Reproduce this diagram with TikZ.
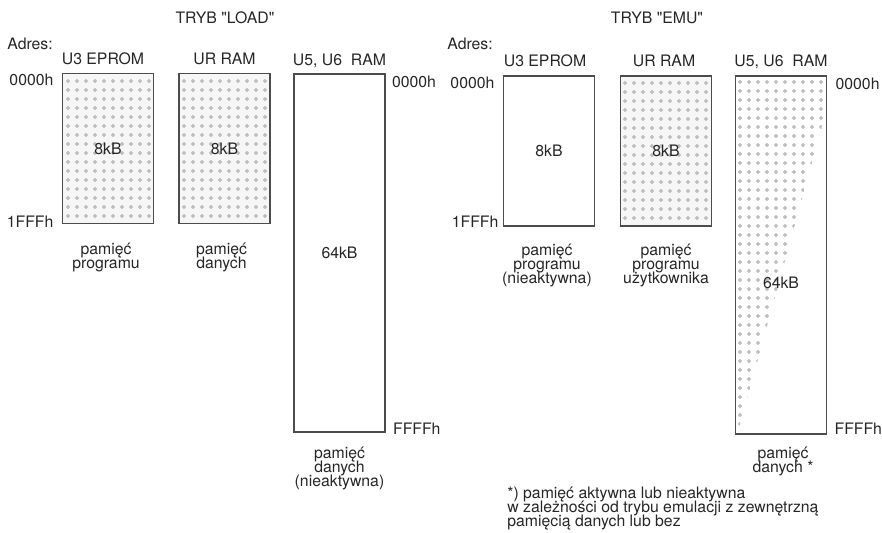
\documentclass[tikz,border=0pt]{standalone}
\usepackage{fontspec}
\setmainfont{TeX Gyre Heros}
\usetikzlibrary{calc}
\lineskiplimit=-10pt

\begin{document}
\begin{tikzpicture}[x=0.5pt,y=-0.5pt,
        font=\fontsize{7.9}{7}\selectfont,
        every node/.style={inner sep=0pt,text=black!85},
        membox/.style={draw=black!70,line width=0.7pt,minimum width=45.5pt,minimum height=75pt},
        bigbox/.style={membox,minimum height=179pt},
        desc/.style={align=center,anchor=north},
        mdot/.style={fill=gray!45,draw=gray!70,line width=0.15pt}]
    \useasboundingbox (0,0) rectangle (882,533);

    % dotted = active memory
    \foreach \bx/\by in {63/74,179/74,620/76}
        {
            \fill[gray!7] (\bx,\by) rectangle (\bx+91,\by+150);
            \foreach \i in {0,...,9}
                \foreach \j in {0,...,15}
                    {\filldraw[mdot] (\bx+5+9*\i,\by+7+9*\j) circle (0.8pt);}
        }
    \begin{scope}
        \clip (736,76) -- (827,76) -- (827,108) -- (739,428) -- (736,428) -- cycle;
        \foreach \i in {0,...,9}
            \foreach \j in {0,...,38}
                {\filldraw[mdot] (740+9*\i,82+9*\j) circle (0.8pt);}
    \end{scope}

    \node[anchor=base] (tload) at (225,24) {TRYB \textquotedbl LOAD\textquotedbl};
    \node[anchor=base] (temu) at (657,24) {TRYB \textquotedbl EMU\textquotedbl};
    \node[anchor=base west] (ladr) at (7,50) {Adres:};
    \node[anchor=base west] (eadr) at (447,50) {Adres:};

    % tryb LOAD
    \node[membox] (lepr) at (108,148.5) {8kB};
    \node[membox] (lur) at (224.5,148.5) {8kB};
    \node[bigbox] (lram) at (339.5,253) {64kB};
    \node[anchor=base] (leprn) at ($(lepr.north)+(-5,-8)$) {U3 EPROM};
    \node[anchor=base] (lurn) at ($(lur.north)+(0,-8)$) {UR RAM};
    \node[anchor=base] (lramn) at ($(lram.north)+(0,-8)$) {U5, U6~ RAM};
    \node[anchor=north east] (lbeg) at ($(lepr.north west)+(-8,1)$) {0000h};
    \node[anchor=base east] (lend) at ($(lepr.south west)+(-8,3)$) {1FFFh};
    \node[anchor=north west] (lrbeg) at ($(lram.north east)+(6,2)$) {0000h};
    \node[anchor=base west] (lrend) at ($(lram.south east)+(7,2)$) {FFFFh};
    \node[desc] (leprd) at ($(lepr.south)+(-2,18)$) {pamięć\\programu};
    \node[desc] (lurd) at ($(lur.south)+(-3,18)$) {pamięć\\danych};
    \node[desc] (lramd) at ($(lram.south)+(0,14)$) {pamięć\\danych\\(nieaktywna)};

    % tryb EMU
    \node[membox] (eepr) at (549,151) {8kB};
    \node[membox] (eur) at (666,151) {8kB};
    \node[bigbox] (eram) at (781,255) {};
    \node (eramkb) at (781,283) {64kB};
    \node[anchor=base] (eeprn) at ($(eepr.north)+(-4,-9)$) {U3 EPROM};
    \node[anchor=base] (eurn) at ($(eur.north)+(-2,-9)$) {UR RAM};
    \node[anchor=base] (eramn) at ($(eram.north)+(0,-9)$) {U5, U6~ RAM};
    \node[anchor=north east] (ebeg) at ($(eepr.north west)+(-8,1)$) {0000h};
    \node[anchor=base east] (eend) at ($(eepr.south west)+(-4,1)$) {1FFFh};
    \node[anchor=north west] (erbeg) at ($(eram.north east)+(8,2)$) {0000h};
    \node[anchor=base west] (erend) at ($(eram.south east)+(7,0)$) {FFFFh};
    \node[desc] (eeprd) at ($(eepr.south)+(-2,17)$) {pamięć\\programu\\(nieaktywna)};
    \node[desc] (eurd) at ($(eur.south)+(0,17)$) {pamięć\\programu\\użytkownika};
    \node[desc] (eramd) at ($(eram.south)+(2,12)$) {pamięć\\danych *};

    \node[anchor=north west,align=left,font=\fontsize{7.9}{7}\selectfont] (note) at (507,487)
        {*) pamięć aktywna lub nieaktywna\\w zależności od trybu emulacji z zewnętrzną\\pamięcią danych lub bez};
\end{tikzpicture}
\end{document}
